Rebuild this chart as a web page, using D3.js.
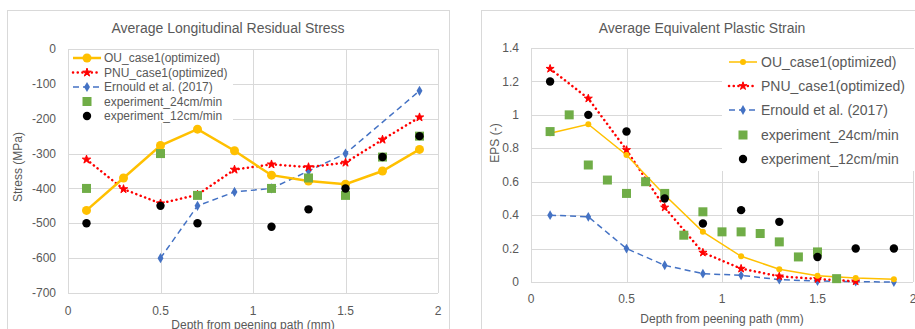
<!DOCTYPE html>
<html lang="en">
<head>
<meta charset="UTF-8">
<title>Residual stress and EPS</title>
<script src="https://d3js.org/d3.v7.min.js"></script>
<style>
  body { margin: 0; background: #fff; }
  text { font-family: "Liberation Sans", Arial, sans-serif; fill: #595959; }
</style>
</head>
<body>
<script>
// ---- data ----
var depth = [0.1, 0.3, 0.5, 0.7, 0.9, 1.1, 1.3, 1.5, 1.7, 1.9];

// left chart: stress (MPa)
var stressOU = [-463, -370, -277, -230, -292, -362, -379, -388, -350, -288];
var stressPNU = [-317, -402, -443, -418, -346, -331, -339, -326, -260, -196];
var stressErnX = [0.5, 0.7, 0.9, 1.1, 1.3, 1.5, 1.9];
var stressErn = [-600, -450, -410, -400, -350, -300, -120];
var stressExp24X = [0.1, 0.5, 0.7, 1.1, 1.3, 1.5, 1.7, 1.9];
var stressExp24 = [-400, -300, -420, -400, -370, -420, -310, -250];
var stressExp12X = [0.1, 0.5, 0.7, 1.1, 1.3, 1.5, 1.7, 1.9];
var stressExp12 = [-500, -450, -500, -510, -460, -400, -310, -250];
var stressTicks = [0, -100, -200, -300, -400, -500, -600, -700];

// right chart: EPS (-)
var epsOU = [0.89, 0.944, 0.76, 0.52, 0.30, 0.154, 0.076, 0.038, 0.024, 0.016];
var epsPNUX = [0.1, 0.3, 0.5, 0.7, 0.9, 1.1, 1.3, 1.5, 1.7];
var epsPNU = [1.276, 1.098, 0.79, 0.446, 0.176, 0.08, 0.034, 0.018, 0.004];
var epsErn = [0.40, 0.39, 0.20, 0.10, 0.05, 0.04, 0.014, 0.006, 0.002, 0.0];
var epsExp24X = [0.1, 0.2, 0.3, 0.4, 0.5, 0.6, 0.7, 0.8, 0.9, 1.0, 1.1, 1.2, 1.3, 1.4, 1.5, 1.6];
var epsExp24 = [0.9, 1.0, 0.70, 0.61, 0.53, 0.60, 0.53, 0.28, 0.42, 0.30, 0.30, 0.29, 0.24, 0.15, 0.18, 0.02];
var epsExp12X = [0.1, 0.3, 0.5, 0.7, 0.9, 1.1, 1.3, 1.5, 1.7, 1.9];
var epsExp12 = [1.2, 1.0, 0.9, 0.5, 0.35, 0.43, 0.36, 0.15, 0.2, 0.2];
var epsTicks = [0, 0.2, 0.4, 0.6, 0.8, 1, 1.2, 1.4];

var depthTicks = [0, 0.5, 1, 1.5, 2];
var seriesNames = ["OU_case1(optimized)", "PNU_case1(optimized)", "Ernould et al. (2017)",
                   "experiment_24cm/min", "experiment_12cm/min"];

var width = 915, height = 329;
var svg = d3.select("body").append("svg").attr("width", width).attr("height", height);

function zip(xs, ys) { return xs.map(function(x, i) { return [x, ys[i]]; }); }

function drawChart(c) {
  var g = svg.append("g");
  // chart border
  g.append("rect").attr("x", c.box[0] + 0.5).attr("y", c.box[1] + 0.5)
    .attr("width", c.box[2]).attr("height", c.box[3])
    .attr("fill", "#fff").attr("stroke", "#d9d9d9");

  var x = d3.scaleLinear().domain([0, 2]).range([c.plot[0], c.plot[1]]);
  var y = d3.scaleLinear().domain(c.ydom).range([c.plot[3], c.plot[2]]);

  // grid
  g.selectAll(".hg").data(c.yticks).enter().append("line")
    .attr("x1", x(0)).attr("x2", x(2))
    .attr("y1", function(d) { return Math.round(y(d)) + 0.5; })
    .attr("y2", function(d) { return Math.round(y(d)) + 0.5; })
    .attr("stroke", "#d9d9d9");
  g.selectAll(".vg").data(depthTicks).enter().append("line")
    .attr("y1", y(c.ydom[0])).attr("y2", y(c.ydom[1]))
    .attr("x1", function(d) { return Math.round(x(d)) + 0.5; })
    .attr("x2", function(d) { return Math.round(x(d)) + 0.5; })
    .attr("stroke", "#d9d9d9");

  // tick labels
  g.selectAll(".yl").data(c.yticks).enter().append("text")
    .attr("x", c.plot[0] - 12).attr("y", function(d) { return y(d); })
    .attr("dy", "0.35em").attr("text-anchor", "end")
    .style("font-size", c.tickFont + "px")
    .text(function(d) { return d; });
  g.selectAll(".xl").data(depthTicks).enter().append("text")
    .attr("x", function(d) { return x(d); }).attr("y", c.xLabelY)
    .attr("dy", "0.35em").attr("text-anchor", "middle")
    .style("font-size", c.tickFont + "px")
    .text(function(d) { return d; });

  // titles
  g.append("text").attr("x", c.titleX).attr("y", 28).attr("dy", "0.35em")
    .attr("text-anchor", "middle").style("font-size", "14px").text(c.title);
  g.append("text").attr("x", (c.plot[0] + c.plot[1]) / 2).attr("y", c.xTitleY)
    .attr("dy", "0.35em").attr("text-anchor", "middle").style("font-size", "12px")
    .text("Depth from peening path (mm)");
  g.append("text").attr("transform", "translate(" + c.yTitle[0] + "," + c.yTitle[1] + ") rotate(-90)")
    .attr("dy", "0.35em").attr("text-anchor", "middle").style("font-size", "12px")
    .text(c.yTitleText);

  var line = d3.line().x(function(d) { return x(d[0]); }).y(function(d) { return y(d[1]); });

  var s = c.series;
  // legend background
  var L = c.legend;
  g.append("rect").attr("x", L.box[0]).attr("y", L.box[1]).attr("width", L.box[2]).attr("height", L.box[3])
    .attr("fill", "#fff");

  // lines
  g.append("path").datum(s[2].pts).attr("d", line).attr("fill", "none")
    .attr("stroke", "#4472c4").attr("stroke-width", 1.5).attr("stroke-dasharray", "6,4");
  g.append("path").datum(s[1].pts).attr("d", line).attr("fill", "none")
    .attr("stroke", "#ff0000").attr("stroke-width", 2.5).attr("stroke-linecap", "round")
    .attr("stroke-dasharray", "0.1,4.6");
  g.append("path").datum(s[0].pts).attr("d", line).attr("fill", "none")
    .attr("stroke", "#ffc000").attr("stroke-width", c.ouWidth);

  var diamond = d3.symbol().type(d3.symbolDiamond).size(c.diamondSize)();
  var star = d3.symbol().type(d3.symbolStar).size(c.starSize)();

  g.selectAll(".ern").data(s[2].pts).enter().append("path").attr("d", diamond)
    .attr("transform", function(d) { return "translate(" + x(d[0]) + "," + y(d[1]) + ")"; })
    .attr("fill", "#4472c4");
  g.selectAll(".pnu").data(s[1].pts).enter().append("path").attr("d", star)
    .attr("transform", function(d) { return "translate(" + x(d[0]) + "," + y(d[1]) + ")"; })
    .attr("fill", "#ff0000").attr("stroke", "#ff0000").attr("stroke-width", 1).attr("stroke-linejoin", "round");
  g.selectAll(".ou").data(s[0].pts).enter().append("circle")
    .attr("cx", function(d) { return x(d[0]); }).attr("cy", function(d) { return y(d[1]); })
    .attr("r", c.ouR).attr("fill", "#ffc000");
  g.selectAll(".e24").data(s[3].pts).enter().append("rect")
    .attr("x", function(d) { return x(d[0]) - c.sq / 2; }).attr("y", function(d) { return y(d[1]) - c.sq / 2; })
    .attr("width", c.sq).attr("height", c.sq).attr("fill", "#70ad47");
  g.selectAll(".e12").data(s[4].pts).enter().append("circle")
    .attr("cx", function(d) { return x(d[0]); }).attr("cy", function(d) { return y(d[1]); })
    .attr("r", c.blackR).attr("fill", "#000");

  // legend entries
  seriesNames.forEach(function(name, i) {
    var ly = L.rows[i], cx = L.symX;
    var lg = g.append("g");
    if (i === 0) {
      lg.append("line").attr("x1", cx - L.half).attr("x2", cx + L.half).attr("y1", ly).attr("y2", ly)
        .attr("stroke", "#ffc000").attr("stroke-width", c.ouWidth);
      lg.append("circle").attr("cx", cx).attr("cy", ly).attr("r", c.ouR).attr("fill", "#ffc000");
    } else if (i === 1) {
      lg.append("line").attr("x1", cx - L.half).attr("x2", cx + L.half).attr("y1", ly).attr("y2", ly)
        .attr("stroke", "#ff0000").attr("stroke-width", 2.5).attr("stroke-linecap", "round")
        .attr("stroke-dasharray", "0.1,4.6");
      lg.append("path").attr("d", star).attr("transform", "translate(" + cx + "," + ly + ")")
        .attr("fill", "#ff0000").attr("stroke", "#ff0000").attr("stroke-width", 1).attr("stroke-linejoin", "round");
    } else if (i === 2) {
      lg.append("line").attr("x1", cx - L.half).attr("x2", cx + L.half).attr("y1", ly).attr("y2", ly)
        .attr("stroke", "#4472c4").attr("stroke-width", 1.5).attr("stroke-dasharray", "6,4");
      lg.append("path").attr("d", diamond).attr("transform", "translate(" + cx + "," + ly + ")").attr("fill", "#4472c4");
    } else if (i === 3) {
      lg.append("rect").attr("x", cx - c.sq / 2).attr("y", ly - c.sq / 2).attr("width", c.sq).attr("height", c.sq)
        .attr("fill", "#70ad47");
    } else {
      lg.append("circle").attr("cx", cx).attr("cy", ly).attr("r", c.blackR).attr("fill", "#000");
    }
    lg.append("text").attr("x", L.textX).attr("y", ly).attr("dy", "0.35em")
      .style("font-size", L.font + "px").text(name);
  });
}

drawChart({
  box: [7, 10, 442, 330],
  plot: [68, 438, 49, 293],
  ydom: [-700, 0],
  yticks: stressTicks,
  tickFont: 12,
  xLabelY: 310.5,
  xTitleY: 325,
  title: "Average Longitudinal Residual Stress",
  titleX: 228,
  yTitle: [18, 167],
  yTitleText: "Stress (MPa)",
  ouWidth: 2.5, ouR: 4.5, sq: 9, blackR: 4.2, starSize: 22, diamondSize: 30,
  series: [
    { pts: zip(depth, stressOU) },
    { pts: zip(depth, stressPNU) },
    { pts: zip(stressErnX, stressErn) },
    { pts: zip(stressExp24X, stressExp24) },
    { pts: zip(stressExp12X, stressExp12) }
  ],
  legend: { box: [69, 50, 164, 73], rows: [58, 72.5, 87, 101.5, 116], symX: 87, half: 14, textX: 104, font: 12 }
});

drawChart({
  box: [481, 10, 440, 330],
  plot: [531, 913, 48, 282],
  ydom: [0, 1.4],
  yticks: epsTicks,
  tickFont: 12,
  xLabelY: 299,
  xTitleY: 319,
  title: "Average Equivalent Plastic Strain",
  titleX: 702,
  yTitle: [495, 143],
  yTitleText: "EPS (-)",
  ouWidth: 1.5, ouR: 3, sq: 9, blackR: 4.2, starSize: 20, diamondSize: 28,
  series: [
    { pts: zip(depth, epsOU) },
    { pts: zip(epsPNUX, epsPNU) },
    { pts: zip(depth, epsErn) },
    { pts: zip(epsExp24X, epsExp24) },
    { pts: zip(epsExp12X, epsExp12) }
  ],
  legend: { box: [722, 49, 200, 122], rows: [62, 86, 110, 135, 159], symX: 743, half: 14, textX: 761, font: 14 }
});
</script>
</body>
</html>
